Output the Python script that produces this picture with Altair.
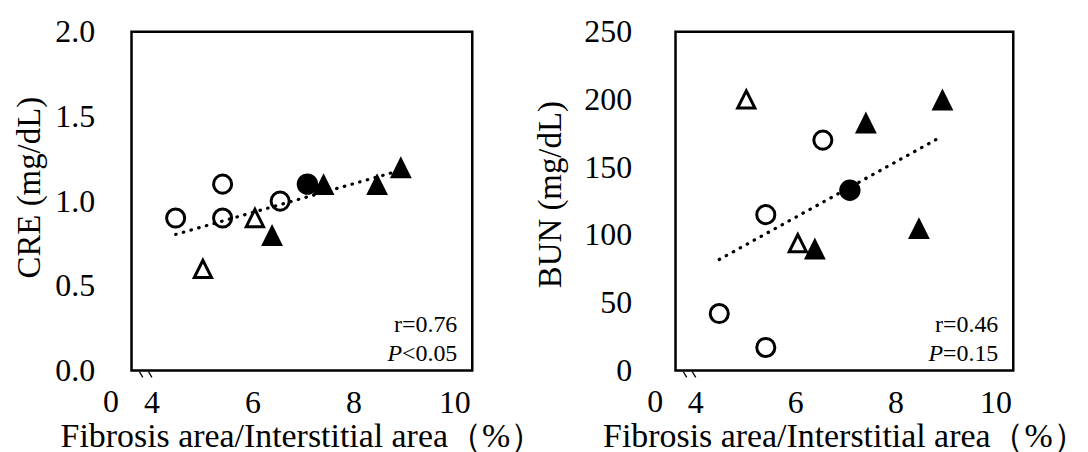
import altair as alt
import pandas as pd

# ---- data ----
fibrosis = [4.48, 5.41, 5.41, 6.55, 7.09, 5.02, 6.05, 6.39, 7.41, 8.47, 8.94]
marker = ["open circle", "open circle", "open circle", "open circle",
          "filled circle",
          "open triangle", "open triangle",
          "filled triangle", "filled triangle", "filled triangle", "filled triangle"]
cre = [0.9, 1.1, 0.9, 1.0, 1.1, 0.6, 0.9, 0.8, 1.1, 1.1, 1.2]
bun = [42, 115, 17, 170, 133, 200, 94, 90, 183, 105, 200]

x_ticks = [4, 6, 8, 10]
x_zero_label = ["0"]
x_zero_pos = [3.2]
break_x = [3.76, 3.94]

cre_ticks = [0.0, 0.5, 1.0, 1.5, 2.0]
bun_ticks = [0, 50, 100, 150, 200, 250]
r_texts = ["r=0.76", "r=0.46"]
p_texts = ["<0.05", "=0.15"]

df = pd.DataFrame({"fibrosis": fibrosis, "marker": marker, "cre": cre, "bun": bun})

FONT = "Liberation Serif"
X_DOMAIN = [3.606, 10.355]
X_TITLE = "Fibrosis area/Interstitial area（%）"
TRI = "M0,-1L-1,1L1,1Z"
LAB = 32
ANN = 24


def panel(col, title, domain, ticks, fmt, r_txt, p_txt, w, h, lab_pad, title_x, title_y):
    xenc = alt.X("fibrosis:Q",
                 scale=alt.Scale(domain=X_DOMAIN, nice=False, zero=False),
                 axis=alt.Axis(values=x_ticks, format="d", title=X_TITLE,
                               labelPadding=17, titlePadding=1, labelFontSize=LAB,
                               titleFontSize=34, labelFont=FONT, titleFont=FONT,
                               titleFontWeight="normal"))
    yenc = alt.Y(f"{col}:Q",
                 scale=alt.Scale(domain=domain, nice=False, zero=True),
                 axis=alt.Axis(values=ticks, format=fmt, title=title,
                               labelPadding=lab_pad, labelFontSize=LAB,
                               titleFontSize=33, titleAngle=270,
                               titleBaseline="middle", titleAlign="center",
                               titleX=title_x, titleY=title_y,
                               labelFont=FONT, titleFont=FONT,
                               titleFontWeight="normal"))
    base = alt.Chart(df).encode(x=xenc, y=yenc)

    open_c = base.transform_filter(alt.datum.marker == "open circle").mark_point(
        shape="circle", filled=False, stroke="black", strokeWidth=3, size=330, opacity=1)
    fill_c = base.transform_filter(alt.datum.marker == "filled circle").mark_point(
        shape="circle", filled=True, fill="black", size=460, opacity=1)
    open_t = base.transform_filter(alt.datum.marker == "open triangle").mark_point(
        shape=TRI, filled=False, stroke="black", strokeWidth=3, size=300, opacity=1)
    fill_t = base.transform_filter(alt.datum.marker == "filled triangle").mark_point(
        shape=TRI, filled=True, fill="black", size=480, opacity=1)

    trend = alt.Chart(df).transform_regression("fibrosis", col).mark_line(
        color="black", strokeDash=[0.5, 7.5], strokeCap="round", strokeWidth=3.2
    ).encode(x=alt.X("fibrosis:Q"), y=alt.Y(f"{col}:Q"))

    zero_df = pd.DataFrame({"pos": x_zero_pos, "lab": x_zero_label})
    zero_lab = alt.Chart(zero_df).mark_text(
        font=FONT, fontSize=LAB, baseline="top", align="center", color="black"
    ).encode(x=alt.X("pos:Q"), y=alt.value(h + 17), text="lab:N")

    brk_df = pd.DataFrame({"bx": break_x})
    brk = alt.Chart(brk_df).transform_calculate(bx2="datum.bx + 0.07").mark_rule(
        color="black", strokeWidth=1.3
    ).encode(x=alt.X("bx:Q"), x2="bx2:Q", y=alt.value(h + 1), y2=alt.value(h + 7))

    r_lab = alt.Chart(pd.DataFrame({"t": [r_txt]})).mark_text(
        font=FONT, fontSize=ANN, align="right", baseline="alphabetic", color="black"
    ).encode(x=alt.value(w - 15), y=alt.value(h - 39), text="t:N")
    p_rest = alt.Chart(pd.DataFrame({"t": [p_txt]})).mark_text(
        font=FONT, fontSize=ANN, align="right", baseline="alphabetic", color="black"
    ).encode(x=alt.value(w - 15), y=alt.value(h - 10), text="t:N")
    p_it = alt.Chart(pd.DataFrame({"t": ["P"]})).mark_text(
        font=FONT, fontSize=ANN, fontStyle="italic", align="right",
        baseline="alphabetic", color="black"
    ).encode(x=alt.value(w - 15 - 55.5), y=alt.value(h - 10), text="t:N")

    return alt.layer(open_c, fill_c, open_t, fill_t, trend, zero_lab, brk,
                     r_lab, p_rest, p_it).properties(width=w, height=h)


left = panel("cre", "CRE (mg/dL)", [0, 2], cre_ticks, ".1f",
             r_texts[0], p_texts[0], 342, 340, 37, -102, 156)
right = panel("bun", "BUN (mg/dL)", [0, 250], bun_ticks, "d",
              r_texts[1], p_texts[1], 339, 340, 44, -125, 163)

chart = alt.hconcat(left, right, spacing=204, bounds="flush").properties(
    padding={"left": 12, "top": 13, "right": 0, "bottom": 0},
    background="white"
).configure_view(
    stroke="black", strokeWidth=2.5
).configure_axis(
    labelFont=FONT, titleFont=FONT, labelColor="black", titleColor="black",
    titleFontWeight="normal", ticks=False, tickSize=0, domain=False, grid=False
)

chart.save("out.html", embed_options={"renderer": "svg", "actions": False})
